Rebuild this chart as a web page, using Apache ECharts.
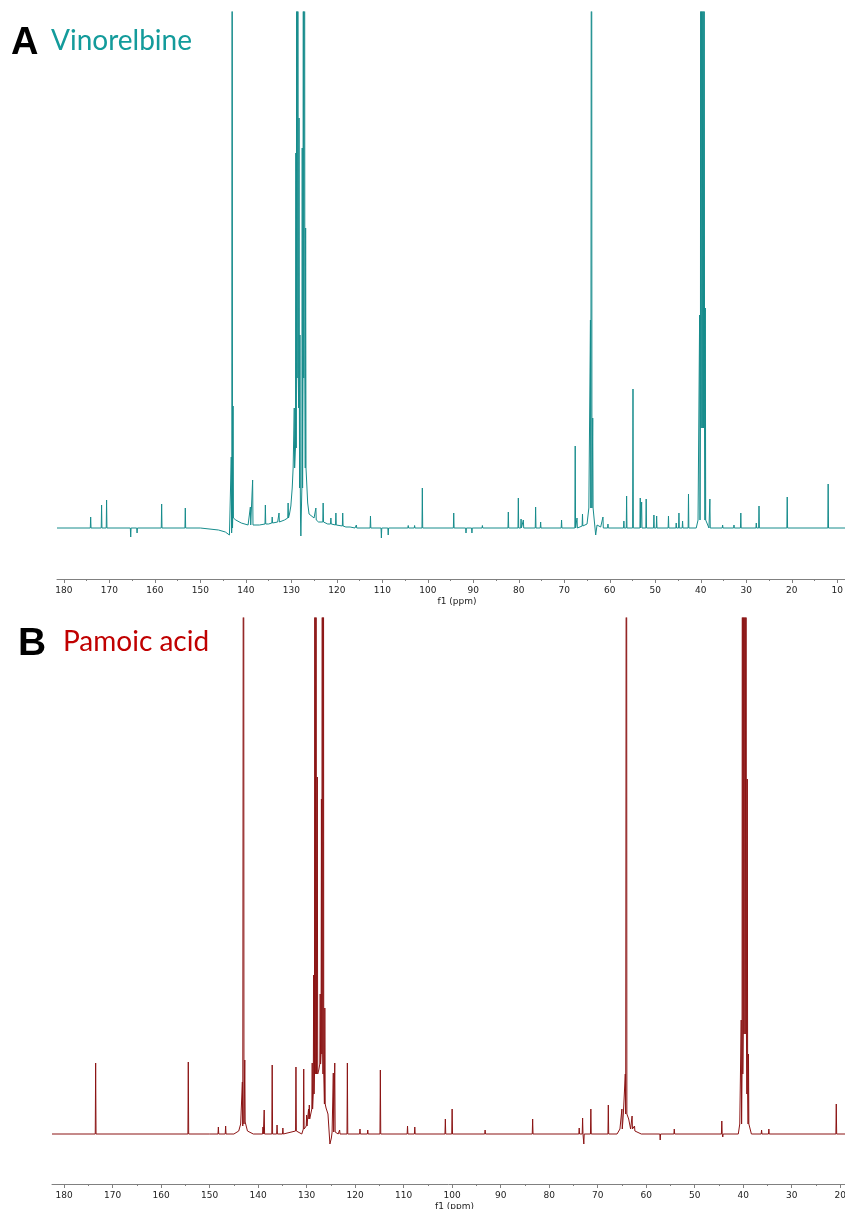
<!DOCTYPE html>
<html>
<head>
<meta charset="utf-8">
<script src="https://cdn.jsdelivr.net/npm/echarts@6/dist/echarts.min.js"></script>
<style>
html,body{margin:0;padding:0;background:#fff;}
#chart{width:845px;height:1209px;}
</style>
</head>
<body>
<div id="chart"></div>
<script>
// ---------- DATA ----------
const majorTicksA = [10,20,30,40,50,60,70,80,90,100,110,120,130,140,150,160,170,180];
const minorTicksA = [15,25,35,45,55,65,75,85,95,105,115,125,135,145,155,165,175];
const majorTicksB = [20,30,40,50,60,70,80,90,100,110,120,130,140,150,160,170,180];
const minorTicksB = [25,35,45,55,65,75,85,95,105,115,125,135,145,155,165,175];

// Vinorelbine: baseline shape points [ppm, intensity]
const baselineA = [[181.5,0],[150,0],[146,-2],[144.5,-4],[143.6,-7],[143.35,-5],
  [142.6,12],[142.2,8],[141,5],[139.5,3],[137,3],[135,4],[133,6],[131.5,8],[130.4,14],[130.1,22],[129.8,40],[129.6,60],
  [126.6,60],[126.4,25],[126.1,14],[125,10],[124,6],[122,4],[120,2],[118,1],[116,0],
  [65.5,0],[65,4],[64.6,20],[63.5,20],[63.1,-7],[62.8,3],[62,1],[61,0],
  [41,0],[40.6,8],[38.5,8],[38.2,0],[8.3,0]];
// Vinorelbine peaks: position (ppm), top intensity, foot intensity
const peakPpmA =  [174.1,171.7,170.6,165.3,163.9,158.5,153.3,
  143.2,143.0,142.8,139.0,138.5,135.7,134.2,132.7,130.7,
  129.35,129.0,128.8,128.55,128.3,128.1,127.9,127.6,127.35,127.1,126.85,
  124.6,123.0,121.3,120.2,118.7,117.0,115.7,112.6,110.2,108.7,104.3,102.9,101.2,
  94.3,91.6,90.3,88.0,82.3,80.1,79.5,79.0,76.3,75.2,70.6,67.6,67.2,66.0,
  64.25,64.0,63.75,61.5,60.4,56.9,56.3,54.9,53.3,53.0,52.0,50.3,49.7,47.1,45.4,44.8,44.0,42.7,
  40.25,40.0,39.75,39.5,39.25,39.0,38.0,35.2,32.7,31.2,27.8,27.2,21.0,12.0];
const peakTopA =  [11,23,28,-9,-5,24,20,
  71,1000,122,21,48,23,11,15,25,
  120,375,1000,1000,410,193,-8,380,1000,1000,300,
  20,25,10,15,15,2,3,12,-10,-7,2.5,2.5,40,
  15,-5,-5,2.5,16,30,9,8,21,6,8,82,10,14,
  208,1000,110,11,4,7,32,139,30,26,29,13,12,12,5,15,7,34,
  213,1000,1000,1000,1000,220,29,3,3,15,5,22,31,44];
const peakFootA = [0,0,0,0,0,0,0,
  -5,0,10,3,3,4,5,6,10,
  60,80,150,150,120,40,10,40,150,150,60,
  8,6,4,3,2,1,0,0,0,0,0,0,0,
  0,0,0,0,0,0,0,0,0,0,0,0,0,2,
  20,20,20,0,0,0,0,0,0,0,0,0,0,0,0,0,0,0,
  8,100,100,100,100,8,0,0,0,0,0,0,0,0];

// Pamoic acid: baseline shape points
const baselineB = [[182.5,0],[150,0],[145,0],[144,3],[143.6,10],
  [142.5,10],[142.2,3],[141,0],[131,0],[130.3,6],[129.8,15],[129.6,25],
  [127.5,64],[126.0,26],[125.6,20],[125.2,-10],[124.9,-4],[124.75,2],
  [123.5,0],[66,0],[65.4,5],[64.7,20],[63.6,15],[63.2,5],[62,2],[61,0],
  [41,0],[40.7,10],[38.6,10],[38.3,0],[19,0]];
const peakPpmB =  [173.5,154.4,148.2,146.7,143.25,143.0,142.75,139.0,138.75,137.1,136.1,134.9,132.2,130.6,130.0,
  129.45,128.85,128.55,128.3,128.05,127.8,127.2,126.95,126.75,126.55,126.25,
  124.5,124.2,123.2,121.6,119.0,117.4,114.8,109.2,107.7,101.4,100.0,93.2,83.4,
  73.8,73.1,72.85,71.4,67.8,65.0,64.3,64.05,62.9,62.4,57.1,54.2,44.4,44.2,
  40.4,40.15,39.9,39.65,39.4,39.15,38.9,36.2,34.7,20.8];
const peakTopB =  [71,72,7,8,52,1000,74,7,24,69,9,6,67,65,19,
  29,71,159,1000,1000,357,140,335,1000,1000,126,
  61,71,4,71,5,4,64,8,7,15,25,4,15,
  6,16,-10,25,29,25,60,1000,18,8,-6,5,13,-3,
  114,1000,1000,1000,1000,355,80,4,5,30];
const peakFootB = [0,0,0,0,8,10,12,0,0,0,0,0,3,5,8,
  15,25,40,60,60,60,70,80,80,60,30,
  2,2,0,0,0,0,0,0,0,0,0,0,0,
  0,0,0,0,0,5,20,20,5,3,0,0,0,0,
  10,60,100,100,100,40,10,0,0,0];

const peakHalfWidth = 0.08;

// ---------- BUILD ----------
function buildSpectrum(base, ppm, top, foot) {
  const pts = base.map(p => [p[0], p[1]]);
  for (let i = 0; i < ppm.length; i++) {
    pts.push([ppm[i] + peakHalfWidth, foot[i]]);
    pts.push([ppm[i], top[i]]);
    pts.push([ppm[i] - peakHalfWidth, foot[i]]);
  }
  pts.sort((a, b) => b[0] - a[0]);
  return pts;
}
const dataA = buildSpectrum(baselineA, peakPpmA, peakTopA, peakFootA);
const dataB = buildSpectrum(baselineB, peakPpmB, peakTopB, peakFootB);

const axisColor = '#808080';
const fontFam = '"DejaVu Sans", Verdana, sans-serif';

function majorAxis(grid, min, max, ticks) {
  return {
    type: 'value', gridIndex: grid, min: min, max: max, inverse: true, position: 'bottom',
    axisLine: {show: true, onZero: false, lineStyle: {color: axisColor, width: 1}},
    axisTick: {show: true, length: 4, customValues: ticks, lineStyle: {color: axisColor}},
    axisLabel: {customValues: ticks, fontSize: 9, color: '#222', fontFamily: fontFam, margin: 7},
    splitLine: {show: false},
    name: 'f1 (ppm)', nameLocation: 'middle', nameGap: 18,
    nameTextStyle: {fontSize: 9, color: '#222', fontFamily: fontFam, padding: [0,0,0,12]}
  };
}
function minorAxis(grid, min, max, ticks) {
  return {
    type: 'value', gridIndex: grid, min: min, max: max, inverse: true, position: 'bottom', offset: 0,
    axisLine: {show: false, onZero: false},
    axisTick: {show: true, length: 2, customValues: ticks, lineStyle: {color: axisColor}},
    axisLabel: {show: false},
    splitLine: {show: false}
  };
}

const chart = echarts.init(document.getElementById('chart'), null, {renderer: 'canvas'});
chart.setOption({
  backgroundColor: '#fff',
  animation: false,
  grid: [
    {left: 57, right: 0, top: 12, height: 567, outerBoundsMode: 'none', containLabel: false},
    {left: 52, right: 0, top: 618, height: 566, outerBoundsMode: 'none', containLabel: false}
  ],
  xAxis: [
    majorAxis(0, 8.3, 181.5, majorTicksA),
    minorAxis(0, 8.3, 181.5, minorTicksA),
    majorAxis(1, 19.0, 182.5, majorTicksB),
    minorAxis(1, 19.0, 182.5, minorTicksB)
  ],
  yAxis: [
    {type: 'value', gridIndex: 0, min: -51, max: 516, show: false, splitLine: {show: false}},
    {type: 'value', gridIndex: 1, min: -50, max: 516, show: false, splitLine: {show: false}}
  ],
  series: [
    {type: 'line', xAxisIndex: 0, yAxisIndex: 0, data: dataA, showSymbol: false, symbol: 'none',
     lineStyle: {color: '#178c8c', width: 1}, clip: true},
    {type: 'line', xAxisIndex: 2, yAxisIndex: 1, data: dataB, showSymbol: false, symbol: 'none',
     lineStyle: {color: '#8b1414', width: 1}, clip: true}
  ],
  graphic: [
    {type: 'text', left: 11, top: 25, style: {text: 'A', font: 'bold 38px "Liberation Sans", Arial, sans-serif', fill: '#000'}},
    {type: 'text', left: 51, top: 27, style: {text: 'Vinorelbine', font: '28px Lato, "Open Sans", sans-serif', fill: '#139b9b'}},
    {type: 'text', left: 18, top: 625, style: {text: 'B', font: 'bold 39px "Liberation Sans", Arial, sans-serif', fill: '#000'}},
    {type: 'text', left: 63, top: 628, style: {text: 'Pamoic acid', font: '28px Lato, "Open Sans", sans-serif', fill: '#c00000'}}
  ]
});
</script>
</body>
</html>
